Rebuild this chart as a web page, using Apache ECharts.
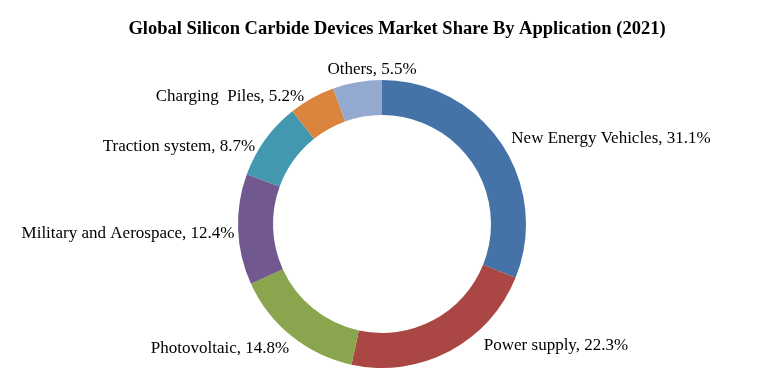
<!DOCTYPE html>
<html><head><meta charset="utf-8">
<script src="https://cdn.jsdelivr.net/npm/echarts@6/dist/echarts.min.js"></script>
<style>html,body{margin:0;padding:0;background:#fff}#c{width:782px;height:386px}</style>
</head><body><div id="c"></div>
<script>
const categories = ['New Energy Vehicles','Power supply','Photovoltaic','Military and Aerospace','Traction system','Charging  Piles','Others'];
const shares = [31.1, 22.3, 14.8, 12.4, 8.7, 5.2, 5.5];
const colors = ['#4572A7','#AA4643','#89A54E','#71588F','#4198AF','#DB843D','#93A9CF'];
// label centre offsets from the pie centre (style only)
const labelOffsetX = [229, 174, -162, -254, -203, -152, -10];
const labelOffsetY = [-85, 122, 125, 10, -77, -127, -154];
const CX = 382, CY = 224;
const chart = echarts.init(document.getElementById('c'));
chart.setOption({
  animation:false,
  title:{text:'Global Silicon Carbide Devices Market Share By Application (2021)',left:392,top:15,textAlign:'center',
    textStyle:{fontFamily:'Liberation Serif',fontSize:18.5,fontWeight:'bold',color:'#000'}},
  series:[{
    type:'pie',center:[CX,CY],radius:[109,144],startAngle:90,clockwise:true,
    data:categories.map((n,i)=>({name:n,value:shares[i],itemStyle:{color:colors[i]}})),
    itemStyle:{borderWidth:0},
    label:{show:true,position:'outside',overflow:'none',edgeDistance:0,formatter:p=>p.name+', '+p.value.toFixed(1)+'%',
      fontFamily:'Liberation Serif',fontSize:17,color:'#000'},
    labelLine:{show:false},
    labelLayout:p=>({x:CX+labelOffsetX[p.dataIndex],y:CY+labelOffsetY[p.dataIndex],align:'center',verticalAlign:'middle'})
  }]
});
</script></body></html>
